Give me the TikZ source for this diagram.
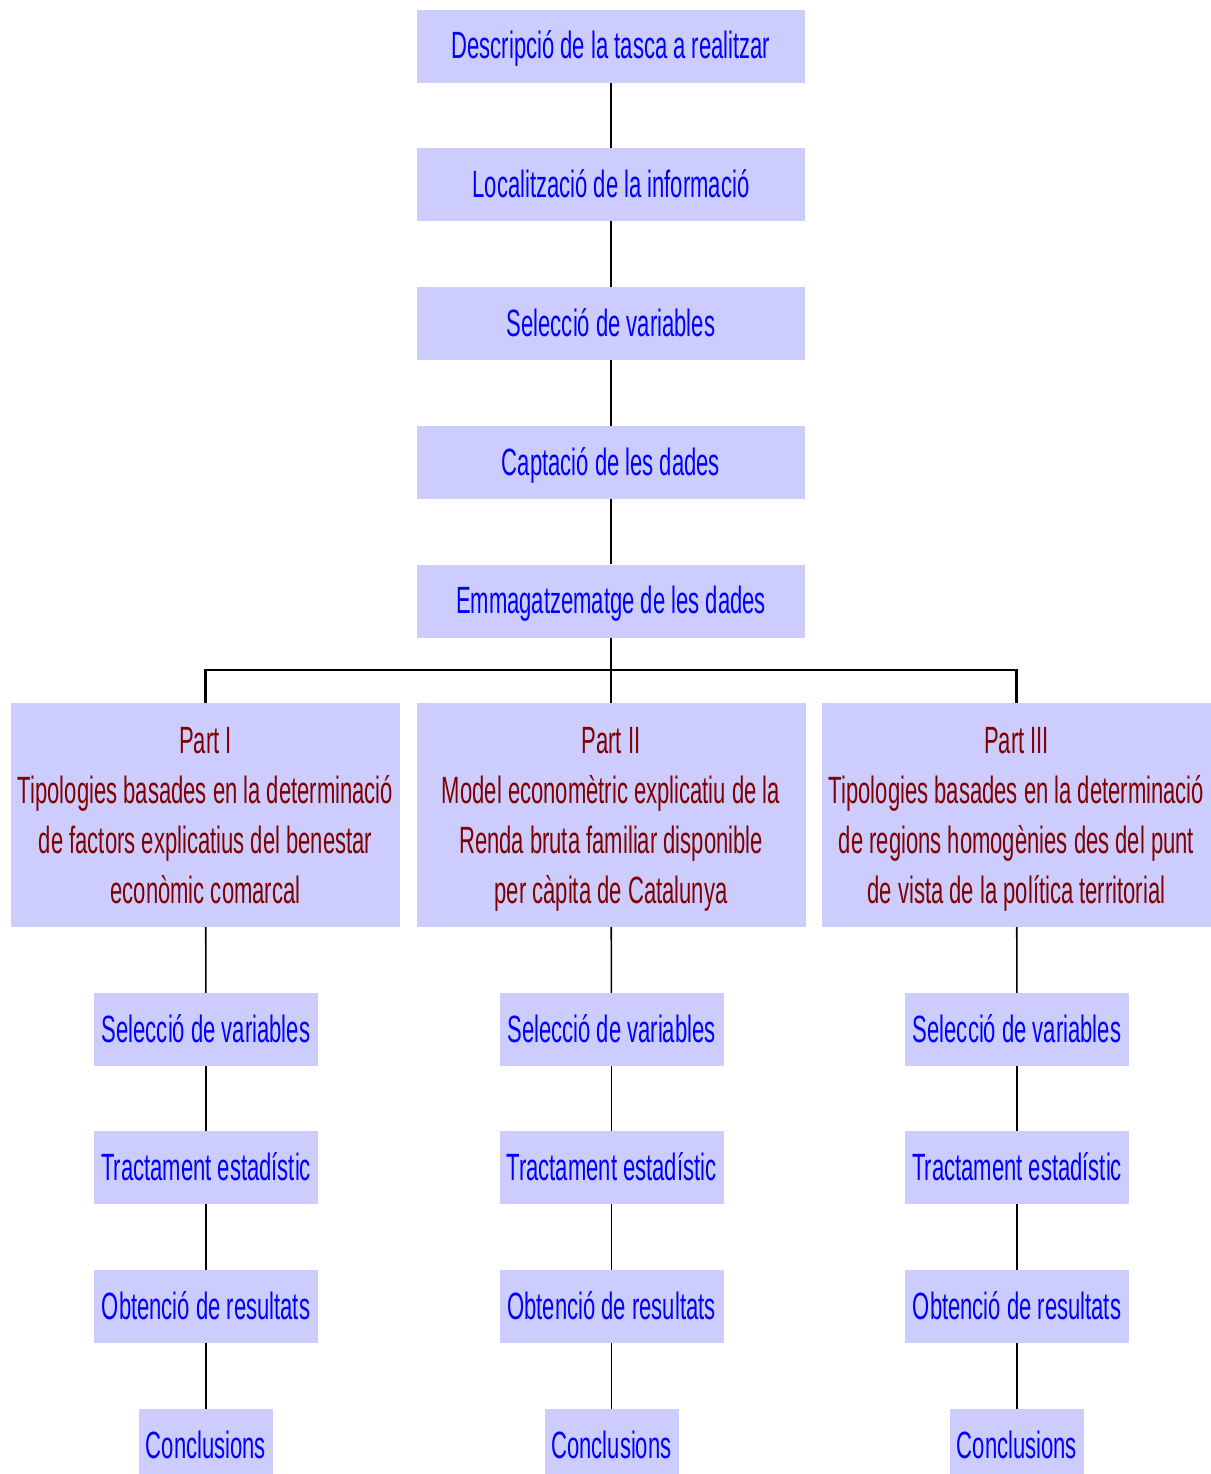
\documentclass[tikz,border=0pt]{standalone}
\usepackage{fontspec}
\setmainfont{Liberation Sans}[FakeStretch=0.58]
\definecolor{boxfill}{HTML}{CCCCFF}
\definecolor{txtblue}{HTML}{0000FF}
\definecolor{txtred}{HTML}{800000}
\newcommand\pstrut{\rule[-12pt]{0pt}{50pt}}
\begin{document}
\begin{tikzpicture}[x=1pt,y=-1pt,
  box/.style={fill=boxfill, draw=none, inner sep=0pt, text=txtblue,
    font=\fontsize{38}{50}\selectfont, anchor=center},
  onel/.style={box, text height=28pt, text depth=3pt},
  topbox/.style={onel, minimum width=388, minimum height=73},
  partbox/.style={box, minimum width=389, minimum height=224, text=txtred, align=center},
  subbox/.style={onel, minimum width=224, minimum height=73},
  conbox/.style={onel, minimum width=134, minimum height=73},
  link/.style={draw=black, line width=1.6pt}]
\useasboundingbox (0,0) rectangle (1210,1474);
% top column
\node[topbox] (t1) at (611,46.5) {Descripció de la tasca a realitzar};
\node[topbox] (t2) at (611,184.5) {Localització de la informació};
\node[topbox] (t3) at (611,323.5) {Selecció de variables};
\node[topbox] (t4) at (611,462.5) {Captació de les dades};
\node[topbox] (t5) at (611,601) {Emmagatzematge de les dades};
% parts
\node[partbox] (p1) at (205.5,815) {Part I\pstrut\\Tipologies basades en la determinació\pstrut\\de factors explicatius del benestar\pstrut\\econòmic comarcal\pstrut};
\node[partbox] (p2) at (611,815) {Part II\pstrut\\Model economètric explicatiu de la\pstrut\\Renda bruta familiar disponible\pstrut\\per càpita de Catalunya\pstrut};
\node[partbox] (p3) at (1016.5,815) {Part III\pstrut\\Tipologies basades en la determinació\pstrut\\de regions homogènies des del punt\pstrut\\de vista de la política territorial\pstrut};
% sub boxes
\foreach \c/\n in {206/1,611.5/2,1017/3}{
  \node[subbox] (s\n) at (\c,1029.5) {Selecció de variables};
  \node[subbox] (r\n) at (\c,1167.5) {Tractament estadístic};
  \node[subbox] (o\n) at (\c,1306.5) {Obtenció de resultats};
  \node[conbox] (c\n) at (\c,1445.5) {Conclusions};
}
% connectors
\draw[link] (t1) -- (t2);
\draw[link] (t2) -- (t3);
\draw[link] (t3) -- (t4);
\draw[link] (t4) -- (t5);
\draw[link] (t5) -- (p2);
\coordinate (j) at (611,670);
\draw[draw=black, line width=2.2pt] (p1.north) |- (j) -| (p3.north);
\foreach \n in {1,2,3}{
  \draw[link] (p\n) -- (s\n);
  \draw[link] (s\n) -- (r\n);
  \draw[link] (r\n) -- (o\n);
  \draw[link] (o\n) -- (c\n);
}
\end{tikzpicture}
\end{document}
